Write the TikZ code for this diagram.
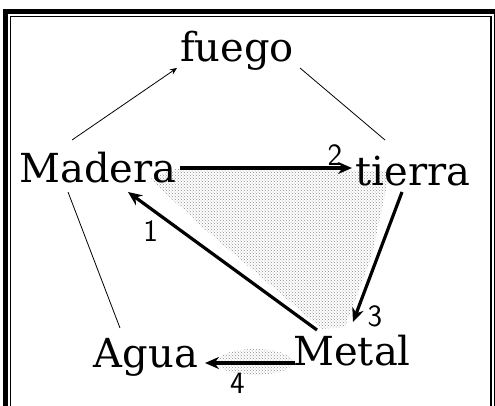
\documentclass[tikz,border=0pt]{standalone}
\usepackage{fontspec}
\usepackage{tikz}
\usetikzlibrary{arrows.meta,positioning,patterns}
\newfontfamily\elemfont{DejaVu Serif}
\definecolor{stipple}{HTML}{8C8C8C}

\begin{document}
\begin{tikzpicture}[
  x=1pt, y=1pt,
  elem/.style={anchor=base, inner sep=0pt, text height=30pt, text depth=9pt,
               font=\elemfont\fontsize{40}{40}\selectfont},
  link/.style={line width=0.8pt},
  flow/.style={line width=3.2pt, -{Stealth[length=14pt,width=12pt]}},
  num/.style={font=\sffamily\fontsize{31}{31}\selectfont, inner sep=1pt},
  shade/.style={pattern=crosshatch dots, pattern color=stipple}
]
  \useasboundingbox (0,0) rectangle (495,405);
  \begin{scope}
    \clip (0,0) rectangle (495,405);
    \draw[line width=5.5pt] (5.5,393.5) rectangle (497,-20);
    \draw[line width=1.2pt] (10.5,388.5) rectangle (491,-20);
  \end{scope}

  % shaded area between the thick arrows
  \fill[shade] (150,226) -- (175,236) -- (390,234) -- (372,150)
               -- (345,78) -- (322,76) -- (200,180) -- cycle;
  \fill[shade] (255,43) ellipse (38pt and 13pt);

  \node[elem] (fuego)  at (237,343) {fuego};
  \node[elem] (madera) at (98,223)  {Madera};
  \node[elem] (tierra) at (413,220) {tierra};
  \node[elem] (agua)   at (146,38)  {Agua};
  \node[elem] (metal)  at (352,40)  {Metal};

  % thin links of the outer ring
  \draw[link, -{Stealth[length=7pt,width=6pt]}]
    ([xshift=-26pt,yshift=42pt]madera.base) -- ([xshift=-60pt,yshift=-6pt]fuego.base);
  \draw[link] ([xshift=63pt,yshift=-6pt]fuego.base) -- ([xshift=-28pt,yshift=45pt]tierra.base);
  \draw[link] ([xshift=-30pt,yshift=-10pt]madera.base) -- ([xshift=-26pt,yshift=39pt]agua.base);

  % numbered arrows
  \draw[flow] ([xshift=82pt,yshift=14pt]madera.base) -- ([xshift=-61pt,yshift=17pt]tierra.base)
    node[num, pos=0.9, above] {2};
  \draw[flow] ([xshift=-11pt,yshift=-7pt]tierra.base) -- ([xshift=1pt,yshift=43pt]metal.base)
    node[num, pos=1, right=12pt, yshift=6pt] {3};
  \draw[flow] ([xshift=-35pt,yshift=35pt]metal.base) -- ([xshift=30pt,yshift=-10pt]madera.base)
    node[num, pos=0.82, below left=2pt] {1};
  \draw[flow] ([xshift=-57pt,yshift=2pt]metal.base) -- ([xshift=59pt,yshift=4pt]agua.base)
    node[num, pos=0.64, below=8pt] {4};
\end{tikzpicture}
\end{document}
